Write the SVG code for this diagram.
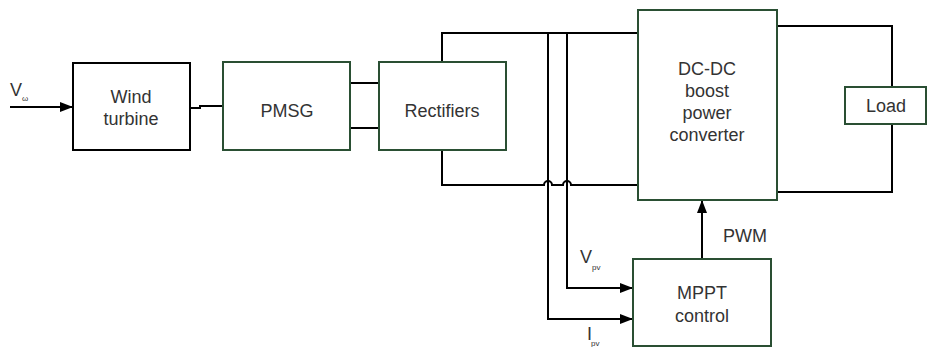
<svg xmlns="http://www.w3.org/2000/svg" width="929" height="347" viewBox="0 0 929 347">
<defs>
<marker id="ah" markerWidth="13" markerHeight="10" refX="13" refY="5" orient="auto" markerUnits="userSpaceOnUse">
<path d="M0,0 L13,5 L0,10 Z" fill="#000"/>
</marker>
<style>
.bk{fill:#fff;stroke:#000;stroke-width:2}
.gr{fill:#fff;stroke:#2a4f33;stroke-width:2}
.t{font-family:"Liberation Sans",Arial,sans-serif;font-size:18px;fill:#333;text-anchor:middle}
.s{font-family:"Liberation Sans",Arial,sans-serif;font-size:8px;fill:#333}
.w{fill:none;stroke:#000;stroke-width:2}
</style>
</defs>
<rect width="929" height="347" fill="#fff"/>
<g id="connectors">
<path class="w" d="M10,107 L73,107" marker-end="url(#ah)"/>
<path class="w" d="M190,108 L200,108 L200,106 L223,106"/>
<path class="w" d="M350,83 L379,83 M350,128 L379,128"/>
<path class="w" d="M442,62 L442,33 L638,33"/>
<path class="w" d="M442,150 L442,185 L544,185 A4,4 0 0 1 552,185 L563,185 A4,4 0 0 1 571,185 L638,185"/>
<path class="w" d="M777,26 L892,26 L892,87"/>
<path class="w" d="M777,192 L892,192 L892,124"/>
<path class="w" d="M548,33 L548,319 L633,319" marker-end="url(#ah)"/>
<path class="w" d="M567,33 L567,288 L633,288" marker-end="url(#ah)"/>
<path class="w" d="M702,259 L702,200" marker-end="url(#ah)"/>
</g>
<g id="vw"><text class="t" x="10" y="96" style="text-anchor:start">V</text><text class="s" x="22" y="101">ω</text></g>
<g id="wind"><rect class="bk" x="73" y="63" width="117" height="87"/><text class="t" x="131" y="103">Wind</text><text class="t" x="131" y="125">turbine</text></g>
<g id="pmsg"><rect class="gr" x="223" y="62" width="127" height="88"/><text class="t" x="287" y="117">PMSG</text></g>
<g id="rect"><rect class="gr" x="379" y="62" width="127" height="88"/><text class="t" x="442" y="117">Rectifiers</text></g>
<g id="dcdc"><rect class="gr" x="638" y="10" width="139" height="190"/><text class="t" x="707" y="75">DC-DC</text><text class="t" x="707" y="97">boost</text><text class="t" x="707" y="119">power</text><text class="t" x="707" y="141">converter</text></g>
<g id="load"><rect class="gr" x="845" y="87" width="81" height="37"/><text class="t" x="886" y="112">Load</text></g>
<g id="mppt"><rect class="gr" x="633" y="259" width="138" height="87"/><text class="t" x="702" y="299">MPPT</text><text class="t" x="702" y="322">control</text></g>
<g id="pwm"><text class="t" x="745" y="242">PWM</text></g>
<g id="vpv"><text class="t" x="580" y="263" style="text-anchor:start">V</text><text class="s" x="592" y="270">pv</text></g>
<g id="ipv"><text class="t" x="587" y="340" style="text-anchor:start">I</text><text class="s" x="591" y="346">pv</text></g>
</svg>
